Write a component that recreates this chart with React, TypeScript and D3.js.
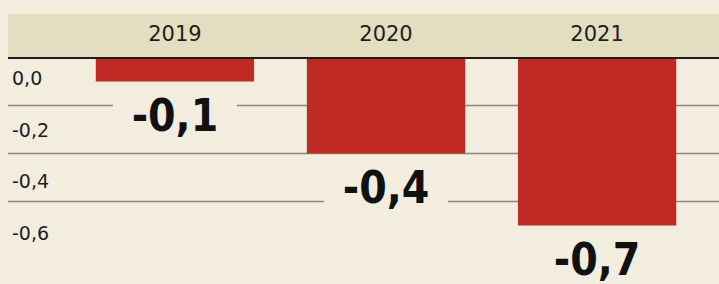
import React from "react";
import * as d3 from "d3";

const years = ["2019", "2020", "2021"];
const values = [-0.1, -0.4, -0.7];
const valueLabels = ["-0,1", "-0,4", "-0,7"];
const tickValues = [0, -0.2, -0.4, -0.6];
const tickLabels = ["0,0", "-0,2", "-0,4", "-0,6"];
const gridValues = [-0.2, -0.4, -0.6];

const W = 719;
const H = 284;
const BG = "#f2eddf";
const HEADER = "#e3dec0";
const RED = "#c02a24";
const INK = "#1e1e1e";
const GRID = "#8c8a7a";

export default function App() {
  const x = d3.scaleBand<string>().domain(years).range([43, 729]).paddingInner(0.25).paddingOuter(0.25);
  const y = d3.scaleLinear().domain([0, -0.7]).range([57.5, 225.5]);
  const tickY = d3.scaleLinear().domain([0, -0.6]).range([85, 240]);
  const labelFont = "'DejaVu Sans Condensed', 'DejaVu Sans', sans-serif";

  // approximate label widths for background knockouts
  const labelW = 84;
  const pad = 20;

  return (
    <div style={{ position: "absolute", left: 0, top: 0, width: W, height: H, background: BG }}>
      <svg width={W} height={H} style={{ display: "block" }}>
        <rect x={0} y={0} width={W} height={H} fill={BG} />
        {/* header band */}
        <rect x={8} y={14} width={W - 8} height={43} fill={HEADER} />
        {years.map((yr) => (
          <text
            key={yr}
            x={(x(yr) as number) + x.bandwidth() / 2}
            y={41}
            textAnchor="middle"
            fontFamily="'DejaVu Sans', sans-serif"
            fontSize={21}
            fill={INK}
          >
            {yr}
          </text>
        ))}
        {/* gridlines */}
        {gridValues.map((v) => (
          <line key={v} x1={8} x2={W} y1={y(v)} y2={y(v)} stroke={GRID} strokeWidth={1.6} />
        ))}
        {/* tick labels */}
        {tickValues.map((v, i) => (
          <text
            key={v}
            x={12}
            y={tickY(v)}
            fontFamily="'DejaVu Sans', sans-serif"
            fontSize={19}
            fill={INK}
          >
            {tickLabels[i]}
          </text>
        ))}
        {/* bars */}
        {years.map((yr, i) => (
          <rect
            key={yr}
            x={x(yr)}
            y={y(0)}
            width={x.bandwidth()}
            height={y(values[i]) - y(0)}
            fill={RED}
          />
        ))}
        {/* value labels with knockouts */}
        {years.map((yr, i) => {
          const cx = (x(yr) as number) + x.bandwidth() / 2;
          const base = y(values[i]) + 49;
          return (
            <g key={yr}>
              <rect x={cx - labelW / 2 - pad} y={base - 36} width={labelW + pad * 2} height={44} fill={BG} />
              <text
                x={cx}
                y={base}
                textAnchor="middle"
                fontFamily={labelFont}
                fontWeight="bold"
                fontSize={44}
                fill="#111"
              >
                {valueLabels[i]}
              </text>
            </g>
          );
        })}
        {/* header bottom rule */}
        <line x1={8} x2={W} y1={58} y2={58} stroke={INK} strokeWidth={2} />
      </svg>
    </div>
  );
}
